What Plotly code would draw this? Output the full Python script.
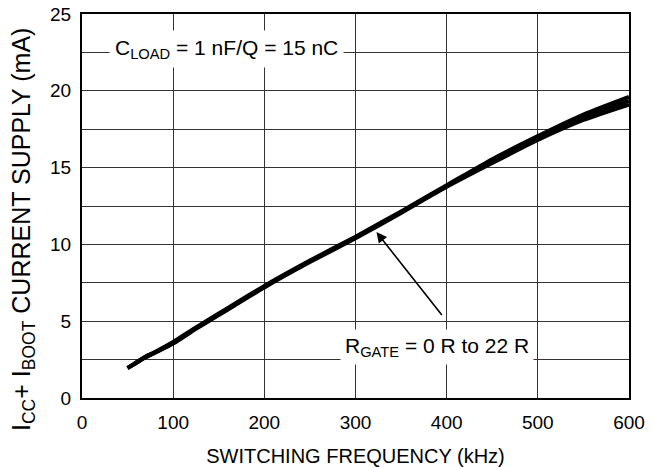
import plotly.graph_objects as go

# Data (three nearly overlapping curves, RGATE = 0 R .. 22 R)
freq_khz = [50, 60, 70, 80, 100, 125, 150, 200, 250, 300, 350, 400, 450, 500, 550, 600]
icc_r0 = [1.95, 2.3, 2.65, 2.95, 3.55, 4.5, 5.4, 7.2, 8.85, 10.4, 12.05, 13.75, 15.3, 16.8, 18.1, 19.1]
icc_r10 = [1.95, 2.3, 2.7, 2.95, 3.6, 4.55, 5.45, 7.25, 8.9, 10.45, 12.1, 13.8, 15.45, 16.95, 18.3, 19.35]
icc_r22 = [1.95, 2.35, 2.7, 3.0, 3.65, 4.6, 5.5, 7.3, 8.95, 10.5, 12.15, 13.85, 15.55, 17.05, 18.45, 19.6]

x_ticks = [0, 100, 200, 300, 400, 500, 600]
y_ticks = [0, 5, 10, 15, 20, 25]

FONT = "Liberation Sans, Arial, Helvetica, sans-serif"

fig = go.Figure()
for ys in (icc_r0, icc_r10, icc_r22):
    fig.add_trace(go.Scatter(x=freq_khz, y=ys, mode="lines",
                             line=dict(color="black", width=4, shape="spline", smoothing=0.6),
                             showlegend=False, hoverinfo="skip"))

fig.update_layout(
    width=652, height=467,
    margin=dict(l=82, r=23, t=14, b=69),
    paper_bgcolor="white", plot_bgcolor="white",
    font=dict(family=FONT, size=20, color="black"),
    showlegend=False,
)

fig.update_xaxes(
    range=[0, 600], tickvals=x_ticks, ticktext=[str(v) for v in x_ticks],
    showgrid=True, gridcolor="#333", gridwidth=1.2,
    showline=True, linecolor="black", linewidth=2, mirror=True,
    ticks="", zeroline=False, automargin=False, ticklabelstandoff=6,
    ticklabeloverflow="allow",
    tickfont=dict(family=FONT, size=19),
    title=dict(text="SWITCHING FREQUENCY (kHz)", font=dict(family=FONT, size=20), standoff=18),
)
fig.update_yaxes(
    range=[0, 25], tickvals=y_ticks, ticktext=[str(v) for v in y_ticks],
    showgrid=True, gridcolor="#333", gridwidth=1.2,
    minor=dict(dtick=2.5, tick0=0, showgrid=True, gridcolor="#333", gridwidth=1.2),
    showline=True, linecolor="black", linewidth=2, mirror=True,
    ticks="", zeroline=False, automargin=False, ticklabelstandoff=5,
    ticklabeloverflow="allow",
    tickfont=dict(family=FONT, size=19),
)

# y-axis title (placed as rotated text, centred where the reference has it)
fig.add_annotation(
    xref="paper", yref="paper", x=(23 - 82) / 547, y=(398 - 230) / 384,
    xanchor="center", yanchor="middle", textangle=-90, showarrow=False,
    text="I<sub>CC</sub>+ I<sub>BOOT</sub> CURRENT SUPPLY (mA)",
    font=dict(family=FONT, size=25, color="black"),
)

fig.add_annotation(
    x=159, y=22.75, xref="x", yref="y",
    text="C<sub>LOAD</sub> = 1 nF/Q = 15 nC",
    showarrow=False, bgcolor="white", borderpad=5,
    font=dict(family=FONT, size=21, color="black"),
)
fig.add_annotation(
    x=389, y=3.35, xref="x", yref="y",
    text="R<sub>GATE</sub> = 0 R to 22 R",
    showarrow=False, bgcolor="white", borderpad=4,
    font=dict(family=FONT, size=21, color="black"),
)
fig.add_annotation(
    x=323, y=10.8, xref="x", yref="y",
    ax=396, ay=5.3, axref="x", ayref="y",
    text="", showarrow=True, arrowhead=2, arrowsize=1.3, arrowwidth=1.6,
    arrowcolor="black",
)

fig.write_html("out.html", config={"displayModeBar": False},
               post_script="document.body.style.margin='0';")
